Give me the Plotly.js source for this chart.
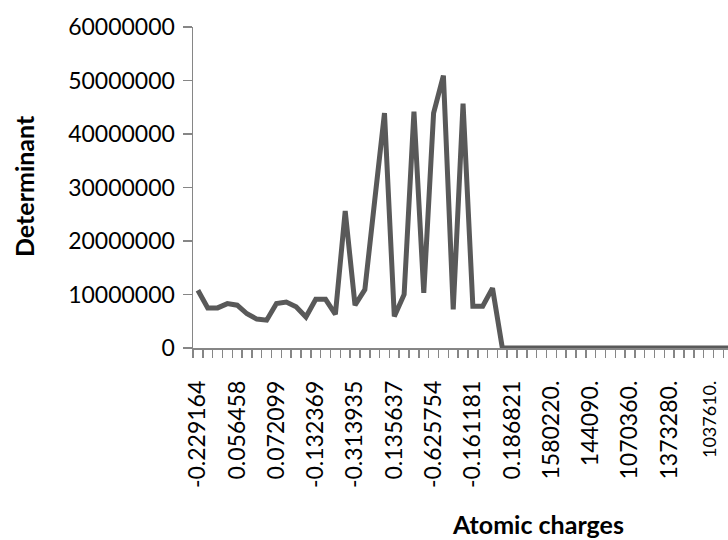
<!DOCTYPE html>
<html>
<head>
<meta charset="utf-8">
<script src="https://cdn.plot.ly/plotly-3.0.1.min.js"></script>
<style>
  html, body { margin: 0; padding: 0; background: #ffffff; }
  #chart { width: 728px; height: 540px; }
</style>
</head>
<body>
<div id="chart"></div>
<script>
// ---- data ----
const categoryIndex = [0,1,2,3,4,5,6,7,8,9,10,11,12,13,14,15,16,17,18,19,20,21,22,23,24,25,26,27,28,29,30,31,32,33,34,35,36,37,38,39,40,41,42,43,44,45,46,47,48,49,50,51,52,53,54];
const determinant = [
  10800000, 7500000, 7500000, 8300000, 8000000, 6400000, 5400000, 5200000, 8300000, 8600000,
  7700000, 5800000, 9100000, 9100000, 6300000, 25600000, 8000000, 10900000, 27500000, 43900000,
  5900000, 10000000, 44200000, 10300000, 43900000, 50900000, 7200000, 45700000, 7800000, 7800000,
  11200000, 0, 0, 0, 0, 0, 0, 0, 0, 0,
  0, 0, 0, 0, 0, 0, 0, 0, 0, 0,
  0, 0, 0, 0, 0
];
const tickPositions = [0, 4, 8, 12, 16, 20, 24, 28, 32, 36, 40, 44, 48, 52];
const tickLabels = ['-0.229164', '0.056458', '0.072099', '-0.132369', '-0.313935', '0.135637',
  '-0.625754', '-0.161181', '0.186821', '1580220.', '144090.', '1070360.', '1373280.',
  '<span style="font-size:18px">1037610.</span>'];
const yTickValues = [0, 10000000, 20000000, 30000000, 40000000, 50000000, 60000000];
const xTitle = 'Atomic charges';
const yTitle = 'Determinant';

// ---- layout geometry ----
const W = 728, H = 540;
const M = { l: 193, r: 0, t: 27, b: 192 };
const plotW = W - M.l - M.r, plotH = H - M.t - M.b;
const pxX = px => (px - M.l) / plotW;
const pxY = py => (H - M.b - py) / plotH;

const axisGrey = '#868686';
const font = { family: 'Lato, "Open Sans", sans-serif', size: 23, color: '#000000' };
const titleFont = { family: font.family, size: 25, color: '#000000' };

const trace = {
  type: 'scatter', mode: 'lines',
  x: categoryIndex, y: determinant,
  line: { color: '#595959', width: 5 },
  hoverinfo: 'skip', showlegend: false
};

const layout = {
  width: W, height: H,
  margin: M,
  paper_bgcolor: '#ffffff', plot_bgcolor: '#ffffff',
  font: font,
  showlegend: false,
  xaxis: {
    type: 'linear',
    range: [-0.5, -0.5 + plotW / 9.82],
    showgrid: false, zeroline: false,
    showline: true, linecolor: axisGrey, linewidth: 1.5,
    tickmode: 'array', tickvals: tickPositions, ticktext: tickLabels,
    tickangle: -90,
    ticks: 'outside', ticklen: 8, tickcolor: 'rgba(0,0,0,0)',
    ticklabelstandoff: 14,
    tickfont: font,
    minor: { ticks: 'outside', ticklen: 8, tickwidth: 1.5, tickcolor: axisGrey,
             tickmode: 'linear', tick0: -0.5, dtick: 1, showgrid: false },
    fixedrange: true
  },
  yaxis: {
    range: [0, 60000000],
    tickmode: 'array', tickvals: yTickValues,
    tickformat: 'd',
    showgrid: false, zeroline: false,
    showline: true, linecolor: axisGrey, linewidth: 1.5,
    ticks: 'outside', ticklen: 9, tickwidth: 1.5, tickcolor: axisGrey,
    ticklabelstandoff: 3,
    tickfont: font,
    fixedrange: true
  },
  annotations: [
    { text: '<b>' + xTitle + '</b>', xref: 'paper', yref: 'paper',
      x: pxX(538), y: pxY(524), xanchor: 'center', yanchor: 'middle',
      showarrow: false, font: titleFont },
    { text: '<b>' + yTitle + '</b>', xref: 'paper', yref: 'paper',
      x: pxX(24), y: pxY(186), xanchor: 'center', yanchor: 'middle', textangle: -90,
      showarrow: false, font: titleFont }
  ]
};

Plotly.newPlot('chart', [trace], layout, { staticPlot: true, displayModeBar: false });
</script>
</body>
</html>
